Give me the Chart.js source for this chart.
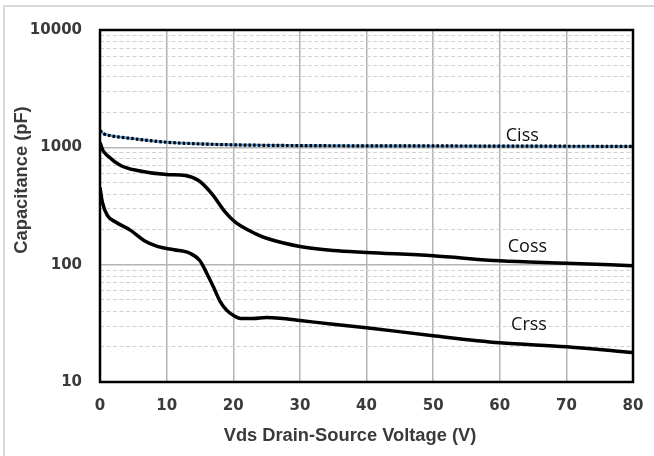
<!DOCTYPE html>
<html><head><meta charset="utf-8">
<script src="https://cdn.jsdelivr.net/npm/chart.js@4.4.1/dist/chart.umd.min.js"></script>
<style>html,body{margin:0;padding:0;background:#fff;}#wrap{position:relative;width:654px;height:456px;}</style>
</head><body><div id="wrap"><canvas id="c"></canvas></div>
<script>
// ---- data ----
const cissV = [0, 0.5, 1.5, 5, 10, 15, 20, 30, 40, 50, 60, 70, 80];
const cissC = [1390, 1310, 1260, 1185, 1105, 1070, 1050, 1035, 1030, 1028, 1025, 1022, 1020];

const cossV = [0, 0.4, 1.1, 3.1, 5.6, 10, 12.8, 14.8, 16.8, 18.8, 20.3, 23.3, 25, 30, 35, 40, 50, 60, 70, 80];
const cossC = [1100, 950, 850, 700, 634, 586, 575, 521, 401, 280, 230, 184, 168, 143, 132, 127, 119, 108, 103, 98];

const crssV = [0, 0.35, 1.1, 2.4, 4.6, 6.6, 8.6, 11.1, 13.5, 15, 16, 17, 18, 19, 20, 21.1, 23, 25, 27, 30, 35, 40, 50, 60, 70, 80];
const crssC = [455, 341, 263, 230, 196, 161, 143, 134, 125, 108, 85, 65, 49, 41, 37, 34.8, 34.8, 35.5, 35, 33.5, 31, 29, 24.8, 21.6, 20, 17.8];

const xTicks = [0, 10, 20, 30, 40, 50, 60, 70, 80];
const yTicks = [10,20,30,40,50,60,70,80,90,100,200,300,400,500,600,700,800,900,1000,2000,3000,4000,5000,6000,7000,8000,9000,10000];
const yLabelled = [10, 100, 1000, 10000];

const seriesNames = ['Ciss', 'Coss', 'Crss'];
const labelAt = [[60.9, 1125], [61.2, 129], [61.7, 27.9]]; // data-space anchor of each curve label

const xTitle = 'Vds Drain-Source Voltage (V)';
const yTitle = 'Capacitance (pF)';

// ---- helpers ----
const pts = (xs, ys) => xs.map((x, i) => ({x: x, y: ys[i]}));
const isMajorVal = v => yLabelled.includes(v);
const tickFont = {family: 'DejaVu Sans', weight: 'bold', size: 15};
const tickColor = '#3a3a3a';

const decor = {
  id: 'decor',
  beforeDraw(chart) {
    const c = chart.ctx;
    c.save();
    c.fillStyle = '#fff';
    c.fillRect(0, 0, chart.width, chart.height);
    c.strokeStyle = '#d9d9d9';
    c.lineWidth = 2;
    c.beginPath();
    c.moveTo(4, chart.height); c.lineTo(4, 6); c.lineTo(chart.width, 6);
    c.stroke();
    c.restore();
  },
  afterDraw(chart) {
    const c = chart.ctx, a = chart.chartArea;
    const xs = chart.scales.x, ys = chart.scales.y;
    c.save();
    c.strokeStyle = '#000';
    c.lineWidth = 2.5;
    c.strokeRect(a.left, a.top, a.right - a.left, a.bottom - a.top);
    // curve labels
    c.fillStyle = '#111';
    c.font = '18px "Open Sans"';
    c.textAlign = 'left';
    c.textBaseline = 'alphabetic';
    seriesNames.forEach((n, i) => {
      c.fillText(n, xs.getPixelForValue(labelAt[i][0]), ys.getPixelForValue(labelAt[i][1]));
    });
    // axis titles
    c.font = 'bold 18.3px "Liberation Sans"';
    c.fillStyle = tickColor;
    c.textAlign = 'center';
    c.textBaseline = 'middle';
    c.fillText(xTitle, 350, 436);
    c.translate(22, 180);
    c.rotate(-Math.PI / 2);
    c.fillText(yTitle, 0, 0);
    c.restore();
  }
};

const lineBase = {pointRadius: 0, fill: false, cubicInterpolationMode: 'monotone', borderCapStyle: 'butt'};

new Chart(document.getElementById('c'), {
  type: 'line',
  data: {
    datasets: [
      Object.assign({}, lineBase, {label: 'Ciss', data: pts(cissV, cissC), borderColor: '#000', borderWidth: 3.2, borderDash: [2.5, 2.2], order: 0}),
      Object.assign({}, lineBase, {label: 'Ciss (blue)', data: pts(cissV, cissC), borderColor: '#5b9bd5', borderWidth: 2.6, order: 1}),
      Object.assign({}, lineBase, {label: 'Coss', data: pts(cossV, cossC), borderColor: '#000', borderWidth: 3.5, order: 2}),
      Object.assign({}, lineBase, {label: 'Crss', data: pts(crssV, crssC), borderColor: '#000', borderWidth: 3.5, order: 3})
    ]
  },
  options: {
    responsive: true,
    maintainAspectRatio: false,
    animation: false,
    events: [],
    layout: {padding: {top: 30, right: 21, left: 0, bottom: 0}},
    plugins: {legend: {display: false}, tooltip: {enabled: false}},
    scales: {
      x: {
        type: 'linear', min: 0, max: 80,
        afterBuildTicks: s => { s.ticks = xTicks.map(v => ({value: v})); },
        afterFit: s => { s.height = 74; s.paddingRight = 0; s.paddingLeft = 0; },
        ticks: {font: tickFont, color: tickColor, padding: 15, autoSkip: false, maxRotation: 0},
        grid: {color: '#b3b3b3', lineWidth: 1.5, drawTicks: false},
        border: {display: false}
      },
      y: {
        type: 'logarithmic', min: 10, max: 10000,
        afterBuildTicks: s => { s.ticks = yTicks.map(v => ({value: v, major: isMajorVal(v)})); },
        afterFit: s => { s.width = 100; s.paddingTop = 0; s.paddingBottom = 0; },
        ticks: {font: tickFont, color: tickColor, padding: 18, autoSkip: false,
          callback: v => isMajorVal(v) ? String(v) : ''},
        grid: {
          drawTicks: false,
          color: ctx => (ctx.tick && isMajorVal(ctx.tick.value)) ? '#b3b3b3' : '#d2d2d2',
          lineWidth: ctx => (ctx.tick && isMajorVal(ctx.tick.value)) ? 1.5 : 1
        },
        border: {display: false, dash: ctx => (ctx.tick && !isMajorVal(ctx.tick.value)) ? [4, 2.5] : []}
      }
    }
  },
  plugins: [decor]
});
</script></body></html>
